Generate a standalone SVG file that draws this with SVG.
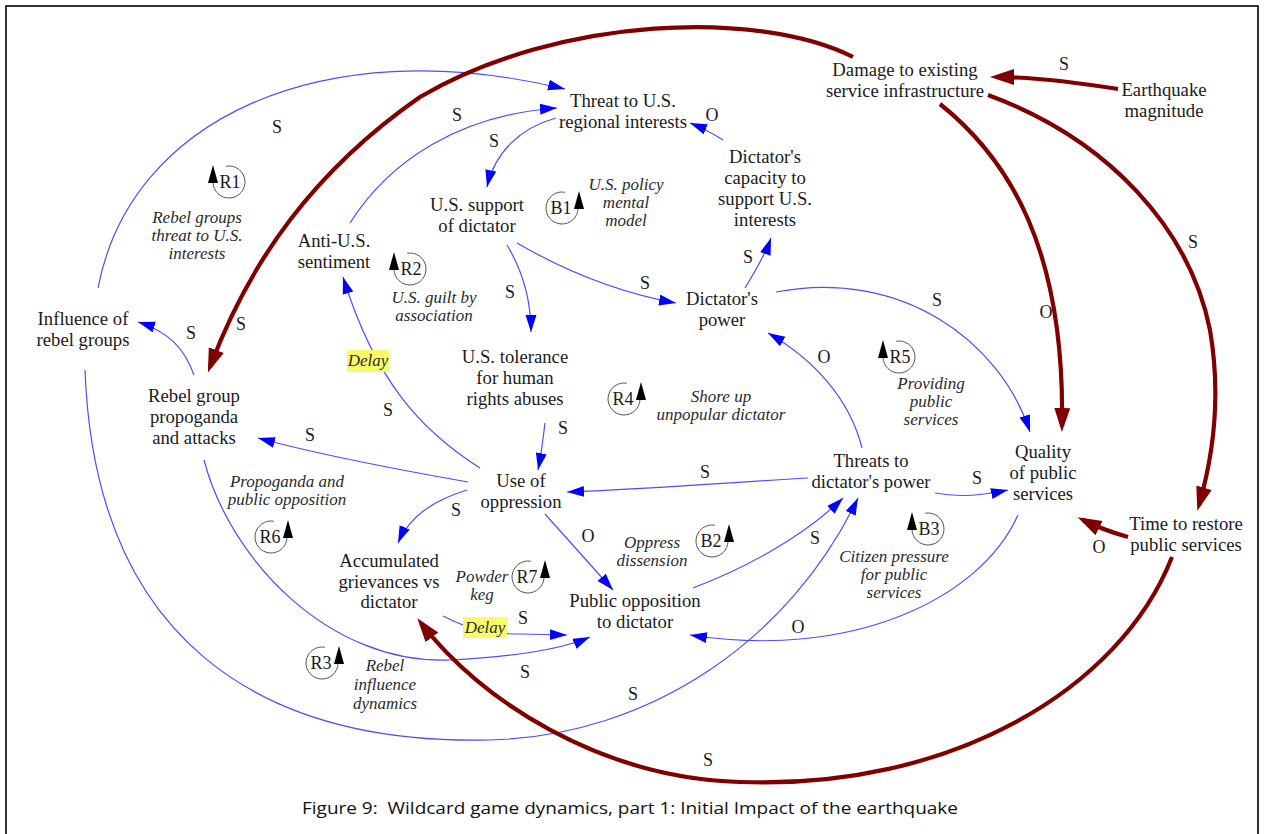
<svg xmlns="http://www.w3.org/2000/svg" width="1264" height="834" viewBox="0 0 1264 834">
<defs>
<style>
.n{font-family:"Liberation Serif","Times New Roman",serif;font-size:18.7px;fill:#1a1a1a;text-anchor:middle}
.lp{font-family:"Liberation Serif","Times New Roman",serif;font-size:17px;font-style:italic;fill:#2a2a2a;text-anchor:middle}
.pol{font-family:"Liberation Serif","Times New Roman",serif;font-size:18px;fill:#1a1a1a;text-anchor:middle}
.lid{font-family:"Liberation Serif","Times New Roman",serif;font-size:18px;fill:#1a1a1a;text-anchor:middle}
.b{fill:none;stroke:#4d4dff;stroke-width:1.2;marker-end:url(#ab)}
.r{fill:none;stroke:#800000;stroke-width:4.2;marker-end:url(#ar)}
.ring{fill:none;stroke:#555;stroke-width:1}
.tri{fill:#000}
.dl{fill:#fbfb6a}
.cap{font-family:"Open Sans","Noto Sans",sans-serif;font-size:17px;fill:#111;text-anchor:middle;white-space:pre}
</style>
<marker id="ab" markerUnits="userSpaceOnUse" markerWidth="18" markerHeight="12" refX="17" refY="5.5" orient="auto"><path d="M0,0 L17,5.5 L0,11 Z" fill="#0000ff"/></marker>
<marker id="ar" markerUnits="userSpaceOnUse" markerWidth="25" markerHeight="17" refX="18" refY="8" orient="auto"><path d="M0,0 L24,8 L0,16 Z" fill="#800000"/></marker>
</defs>

<rect x="0" y="0" width="1264" height="834" fill="#fff"/>
<rect x="6" y="6" width="1252" height="840" fill="none" stroke="#000" stroke-width="1.6"/>

<!-- causal links -->
<g id="connectors">
  <!-- blue links -->
  <path class="b" d="M98,288 C130,120 320,30 565,89"/>
  <path class="b" d="M350,223 C390,160 460,115 557,108"/>
  <path class="b" d="M556,118 C520,128 495,152 487,187"/>
  <path class="b" d="M723,140 C712,133 700,127 690,123"/>
  <path class="b" d="M507,245 C522,270 531,300 531,332"/>
  <path class="b" d="M517,243 C560,268 615,292 676,303"/>
  <path class="b" d="M745,288 C756,270 765,255 771,238"/>
  <path class="b" d="M776,292 C900,268 1000,340 1030,432"/>
  <path class="b" d="M862,448 C850,400 815,360 768,333"/>
  <path class="b" d="M808,478 C720,483 650,489 567,492"/>
  <path class="b" d="M935,493 C960,498 985,495 1008,490"/>
  <path class="b" d="M1018,515 C980,600 850,660 690,635"/>
  <path class="b" d="M468,482 C400,470 320,455 258,438"/>
  <path class="b" d="M480,468 C420,430 375,380 343,277"/>
  <path class="b" d="M467,490 C435,500 410,515 398,543"/>
  <path class="b" d="M545,514 L613,590"/>
  <path class="b" d="M545,423 C543,440 541,455 538,470"/>
  <path class="b" d="M693,588 C740,570 800,540 843,498"/>
  <path class="b" d="M443,616 C470,630 490,634 520,634 L567,635"/>
  <path class="b" d="M204,460 C230,560 330,665 450,660 C510,657 560,650 590,637"/>
  <path class="b" d="M85,370 C95,640 260,745 490,740 C650,736 790,640 858,498"/>
  <path class="b" d="M194,375 C185,350 170,332 138,322"/>
  <!-- earthquake links -->
  <path class="r" d="M853,57 C760,10 560,15 420,97 C315,170 250,260 210,367"/>
  <path class="r" d="M1118,89 C1080,83 1030,77 996,77"/>
  <path class="r" d="M940,104 C1010,160 1065,250 1062,426"/>
  <path class="r" d="M988,95 C1110,140 1190,230 1210,330 C1222,400 1212,460 1199,505"/>
  <path class="r" d="M1128,537 C1110,532 1095,526 1083,520"/>
  <path class="r" d="M1172,557 C1120,690 950,790 740,782 C600,778 480,700 421,623"/>
  <!-- delay marks -->
  <rect class="dl" x="347" y="350" width="42" height="22"/>
  <text class="lp" x="368" y="366">Delay</text>
  <rect class="dl" x="463" y="617" width="44" height="21"/>
  <text class="lp" x="485" y="633">Delay</text>
  <!-- polarities -->
  <text class="pol" x="277" y="133">S</text>
  <text class="pol" x="457" y="121">S</text>
  <text class="pol" x="494" y="147">S</text>
  <text class="pol" x="712" y="121">O</text>
  <text class="pol" x="748" y="263">S</text>
  <text class="pol" x="645" y="289">S</text>
  <text class="pol" x="510" y="298">S</text>
  <text class="pol" x="937" y="306">S</text>
  <text class="pol" x="1046" y="318">O</text>
  <text class="pol" x="1064" y="70">S</text>
  <text class="pol" x="1193" y="248">S</text>
  <text class="pol" x="241" y="330">S</text>
  <text class="pol" x="191" y="339">S</text>
  <text class="pol" x="824" y="363">O</text>
  <text class="pol" x="388" y="416">S</text>
  <text class="pol" x="310" y="441">S</text>
  <text class="pol" x="563" y="434">S</text>
  <text class="pol" x="705" y="478">S</text>
  <text class="pol" x="977" y="484">S</text>
  <text class="pol" x="456" y="516">S</text>
  <text class="pol" x="588" y="542">O</text>
  <text class="pol" x="815" y="544">S</text>
  <text class="pol" x="1099" y="553">O</text>
  <text class="pol" x="523" y="624">S</text>
  <text class="pol" x="798" y="633">O</text>
  <text class="pol" x="525" y="678">S</text>
  <text class="pol" x="633" y="700">S</text>
  <text class="pol" x="708" y="766">S</text>
</g>

<!-- variables -->
<g id="threat-us-interests"><text class="n" y="107"><tspan x="623">Threat to U.S.</tspan><tspan x="623" dy="21">regional interests</tspan></text></g>
<g id="us-support"><text class="n" y="211"><tspan x="477">U.S. support</tspan><tspan x="477" dy="21">of dictator</tspan></text></g>
<g id="dictator-capacity"><text class="n" y="163"><tspan x="765">Dictator's</tspan><tspan x="765" dy="21">capacity to</tspan><tspan x="765" dy="21">support U.S.</tspan><tspan x="765" dy="21">interests</tspan></text></g>
<g id="damage"><text class="n" y="76"><tspan x="905">Damage to existing</tspan><tspan x="905" dy="21">service infrastructure</tspan></text></g>
<g id="earthquake"><text class="n" y="96"><tspan x="1164">Earthquake</tspan><tspan x="1164" dy="21">magnitude</tspan></text></g>
<g id="anti-us"><text class="n" y="247"><tspan x="334">Anti-U.S.</tspan><tspan x="334" dy="21">sentiment</tspan></text></g>
<g id="rebel-influence"><text class="n" y="325"><tspan x="83">Influence of</tspan><tspan x="83" dy="21">rebel groups</tspan></text></g>
<g id="rebel-propaganda"><text class="n" y="402"><tspan x="194">Rebel group</tspan><tspan x="194" dy="21">propoganda</tspan><tspan x="194" dy="21">and attacks</tspan></text></g>
<g id="dictator-power"><text class="n" y="305"><tspan x="722">Dictator's</tspan><tspan x="722" dy="21">power</tspan></text></g>
<g id="us-tolerance"><text class="n" y="363"><tspan x="515">U.S. tolerance</tspan><tspan x="515" dy="21">for human</tspan><tspan x="515" dy="21">rights abuses</tspan></text></g>
<g id="oppression"><text class="n" y="487"><tspan x="521">Use of</tspan><tspan x="521" dy="21">oppression</tspan></text></g>
<g id="threats-power"><text class="n" y="467"><tspan x="871">Threats to</tspan><tspan x="871" dy="21">dictator's power</tspan></text></g>
<g id="service-quality"><text class="n" y="458"><tspan x="1043">Quality</tspan><tspan x="1043" dy="21">of public</tspan><tspan x="1043" dy="21">services</tspan></text></g>
<g id="restore-time"><text class="n" y="530"><tspan x="1186">Time to restore</tspan><tspan x="1186" dy="21">public services</tspan></text></g>
<g id="grievances"><text class="n" y="567"><tspan x="389">Accumulated</tspan><tspan x="389" dy="21">grievances vs</tspan><tspan x="389" dy="20">dictator</tspan></text></g>
<g id="public-opposition"><text class="n" y="607"><tspan x="635">Public opposition</tspan><tspan x="635" dy="21">to dictator</tspan></text></g>

<!-- loop markers -->
<g id="loop-R1"><path class="ring" d="M213,182 A16,16 0 1 0 226.2,166.25"/><polygon class="tri" points="213,165 208,183 218,183"/><text class="lid" x="230" y="188">R1</text>
  <text class="lp" y="223"><tspan x="197">Rebel groups</tspan><tspan x="197" dy="18">threat to U.S.</tspan><tspan x="197" dy="18">interests</tspan></text></g>
<g id="loop-B1"><path class="ring" d="M578,208 A16,16 0 1 1 564.8,192.25"/><polygon class="tri" points="579,191 574,209 584,209"/><text class="lid" x="561" y="214">B1</text>
  <text class="lp" y="190"><tspan x="626">U.S. policy</tspan><tspan x="626" dy="18">mental</tspan><tspan x="626" dy="18">model</tspan></text></g>
<g id="loop-R2"><path class="ring" d="M394,269 A16,16 0 1 0 407.2,253.25"/><polygon class="tri" points="394,252 389,270 399,270"/><text class="lid" x="411" y="275">R2</text>
  <text class="lp" y="303"><tspan x="434">U.S. guilt by</tspan><tspan x="434" dy="18">association</tspan></text></g>
<g id="loop-R4"><path class="ring" d="M640,399 A16,16 0 1 1 626.8,383.25"/><polygon class="tri" points="641,382 636,400 646,400"/><text class="lid" x="623" y="405">R4</text>
  <text class="lp" y="402"><tspan x="721">Shore up</tspan><tspan x="721" dy="18">unpopular dictator</tspan></text></g>
<g id="loop-R5"><path class="ring" d="M883,357 A16,16 0 1 0 896.2,341.25"/><polygon class="tri" points="883,340 878,358 888,358"/><text class="lid" x="900" y="363">R5</text>
  <text class="lp" y="389"><tspan x="931">Providing</tspan><tspan x="931" dy="18">public</tspan><tspan x="931" dy="18">services</tspan></text></g>
<g id="loop-B3"><path class="ring" d="M912,529 A16,16 0 1 0 925.2,513.25"/><polygon class="tri" points="912,512 907,530 917,530"/><text class="lid" x="929" y="535">B3</text>
  <text class="lp" y="562"><tspan x="894">Citizen pressure</tspan><tspan x="894" dy="18">for public</tspan><tspan x="894" dy="18">services</tspan></text></g>
<g id="loop-R6"><path class="ring" d="M287,537 A16,16 0 1 1 273.8,521.25"/><polygon class="tri" points="288,520 283,538 293,538"/><text class="lid" x="270" y="543">R6</text>
  <text class="lp" y="487"><tspan x="287">Propoganda and</tspan><tspan x="287" dy="18">public opposition</tspan></text></g>
<g id="loop-B2"><path class="ring" d="M728,541 A16,16 0 1 1 714.8,525.25"/><polygon class="tri" points="729,524 724,542 734,542"/><text class="lid" x="711" y="547">B2</text>
  <text class="lp" y="548"><tspan x="652">Oppress</tspan><tspan x="652" dy="18">dissension</tspan></text></g>
<g id="loop-R7"><path class="ring" d="M544,577 A16,16 0 1 1 530.8,561.25"/><polygon class="tri" points="545,560 540,578 550,578"/><text class="lid" x="527" y="583">R7</text>
  <text class="lp" y="582"><tspan x="482">Powder</tspan><tspan x="482" dy="18">keg</tspan></text></g>
<g id="loop-R3"><path class="ring" d="M338,663 A16,16 0 1 1 324.8,647.25"/><polygon class="tri" points="339,646 334,664 344,664"/><text class="lid" x="321" y="669">R3</text>
  <text class="lp" y="671"><tspan x="385">Rebel</tspan><tspan x="385" dy="19">influence</tspan><tspan x="385" dy="19">dynamics</tspan></text></g>

<text class="cap" x="630" y="814" textLength="656" lengthAdjust="spacingAndGlyphs">Figure 9:  Wildcard game dynamics, part 1: Initial Impact of the earthquake</text>
</svg>
